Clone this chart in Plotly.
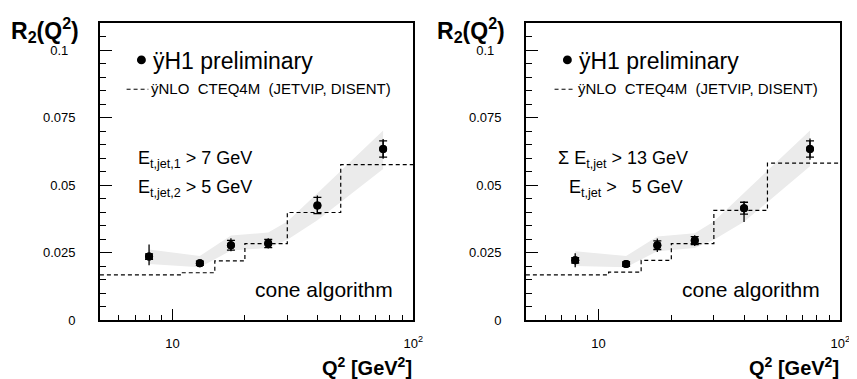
import math
import plotly.graph_objects as go

W, H = 857, 379

# ---------------- data ----------------
q_points = [8.0, 13.0, 17.5, 25.0, 40.0, 75.0]

left_r2 = [0.0236, 0.0211, 0.0278, 0.0284, 0.0425, 0.0634]
left_err_plus = [0.0045, 0.0010, 0.0026, 0.0020, 0.0037, 0.0037]
left_err_minus = [0.0032, 0.0010, 0.0022, 0.0018, 0.0030, 0.0036]
left_err_stat = [0.0010, 0.0008, 0.0018, 0.0015, 0.0030, 0.0030]

right_r2 = [0.0222, 0.0208, 0.0278, 0.0295, 0.0415, 0.0634]
right_err_plus = [0.0026, 0.0012, 0.0025, 0.0020, 0.0026, 0.0039]
right_err_minus = [0.0026, 0.0012, 0.0025, 0.0020, 0.0051, 0.0040]
right_err_stat = [0.0010, 0.0008, 0.0016, 0.0015, 0.0022, 0.0030]

nlo_edges = [5, 11, 15, 20, 30, 50, 100]
left_nlo = [0.0168, 0.0176, 0.0220, 0.0284, 0.0399, 0.0576]
right_nlo = [0.0168, 0.0178, 0.0222, 0.0284, 0.0407, 0.0582]

band_q = [8.0, 13.0, 17.5, 25.0, 30.0, 40.0, 75.0]
left_band_lo = [0.0208, 0.0196, 0.0258, 0.0268, 0.0298, 0.0370, 0.0560]
left_band_hi = [0.0262, 0.0238, 0.0314, 0.0325, 0.0366, 0.0470, 0.0703]
right_band_lo = [0.0201, 0.0196, 0.0256, 0.0268, 0.0298, 0.0365, 0.0570]
right_band_hi = [0.0256, 0.0238, 0.0310, 0.0322, 0.0366, 0.0472, 0.0703]

x_tickvals = [10, 100]
x_ticktext = ["10", "10<sup>2</sup>"]
x_minor = [6, 7, 8, 9, 20, 30, 40, 50, 60, 70, 80, 90]
y_tickvals = [0, 0.025, 0.05, 0.075, 0.1]
y_ticktext = ["0", "0.025", "0.05", "0.075", "0.1\u00a0\u00a0"]
y_minor = [round(0.005 * i, 3) for i in range(1, 22) if i % 5 != 0]

legend_data = "\u00ffH1 preliminary"
legend_nlo = "\u00ffNLO\u00a0\u00a0CTEQ4M\u00a0\u00a0(JETVIP,\u00a0DISENT)"
left_cuts = ["E<sub>t,jet,1</sub> > 7 GeV", "E<sub>t,jet,2</sub> > 5 GeV"]
right_cuts = ["\u03a3 E<sub>t,jet</sub> > 13 GeV", "E<sub>t,jet</sub> >\u00a0\u00a0\u00a05 GeV"]

FONT = "Liberation Sans, Arial, Helvetica, sans-serif"

# ---------------- geometry (pixels) ----------------
panels = [
    dict(x0=93, x1=410, r2=left_r2, ep=left_err_plus, em=left_err_minus, es=left_err_stat,
         nlo=left_nlo, lo=left_band_lo, hi=left_band_hi, cuts=left_cuts,
         cut_x=[130, 130], bullet_x=135, text_x=145, dash_x=(120, 142), nlo_text_x=143),
    dict(x0=524, x1=842, r2=right_r2, ep=right_err_plus, em=right_err_minus, es=right_err_stat,
         nlo=right_nlo, lo=right_band_lo, hi=right_band_hi, cuts=right_cuts,
         cut_x=[554, 566], bullet_x=566, text_x=576, dash_x=(553, 574), nlo_text_x=575),
]
y_top, y_bot = 15, 319


def px(x):
    return x / W


def py(y):
    return 1 - y / H


fig = go.Figure()
layout = dict(
    width=W, height=H, margin=dict(l=0, r=0, t=0, b=0),
    paper_bgcolor="white", plot_bgcolor="white", showlegend=False,
    font=dict(family=FONT, color="black"),
)
annotations = []
shapes = []

for i, p in enumerate(panels):
    sfx = "" if i == 0 else str(i + 1)
    xa, ya = "x" + sfx, "y" + sfx

    # uncertainty band
    fig.add_trace(go.Scatter(
        x=band_q + band_q[::-1], y=p["hi"] + p["lo"][::-1],
        fill="toself", fillcolor="#ebebeb", line=dict(width=0),
        mode="lines", xaxis=xa, yaxis=ya, hoverinfo="skip"))
    # NLO histogram
    fig.add_trace(go.Scatter(
        x=nlo_edges, y=p["nlo"] + [p["nlo"][-1]], mode="lines",
        line=dict(shape="hv", color="black", width=1.2, dash="4px,3px"),
        xaxis=xa, yaxis=ya))
    # total errors
    fig.add_trace(go.Scatter(
        x=q_points, y=p["r2"], mode="markers",
        marker=dict(size=8, color="black"),
        error_y=dict(type="data", symmetric=False, array=p["ep"], arrayminus=p["em"],
                     color="black", thickness=1.3, width=0),
        xaxis=xa, yaxis=ya))
    # stat errors (caps)
    fig.add_trace(go.Scatter(
        x=q_points, y=p["r2"], mode="markers",
        marker=dict(size=8, color="black"),
        error_y=dict(type="data", array=p["es"], color="black", thickness=1.3, width=4),
        xaxis=xa, yaxis=ya))

    axis_common = dict(showline=True, linecolor="black", linewidth=1.5, mirror=True,
                       ticks="inside", tickcolor="black", tickwidth=1.2,
                       showgrid=False, zeroline=False,
                       tickfont=dict(size=13, family=FONT, color="black"))
    layout["xaxis" + sfx] = dict(
        type="log", range=[math.log10(5), 2], domain=[px(p["x0"]), px(p["x1"])],
        anchor=ya, tickmode="array", tickvals=x_tickvals, ticktext=x_ticktext,
        ticklen=12, ticklabelstandoff=10,
        minor=dict(tickmode="array", tickvals=x_minor, ticks="inside", ticklen=6,
                   tickcolor="black", tickwidth=1.2, showgrid=False),
        **axis_common)
    layout["yaxis" + sfx] = dict(
        range=[0, 0.1102], domain=[py(y_bot), py(y_top)], anchor=xa,
        tickmode="array", tickvals=y_tickvals, ticktext=y_ticktext,
        ticklen=12, ticklabelstandoff=20,
        minor=dict(tickmode="array", tickvals=y_minor, ticks="inside", ticklen=6,
                   tickcolor="black", tickwidth=1.2, showgrid=False),
        **axis_common)

    # axis titles
    annotations.append(dict(
        x=px(p["x0"] - 92), y=py(22), xref="paper", yref="paper",
        xanchor="left", yanchor="middle", showarrow=False,
        text="<b>R<sub>2</sub>(Q<sup>2</sup>)</b>", font=dict(size=23, family=FONT)))
    annotations.append(dict(
        x=px(p["x1"] + 1), y=py(366), xref="paper", yref="paper",
        xanchor="right", yanchor="middle", showarrow=False,
        text="<b>Q<sup>2</sup> [GeV<sup>2</sup>]</b>", font=dict(size=20, family=FONT)))

    # legend
    r = 4.5
    shapes.append(dict(type="circle", xref="paper", yref="paper",
                       x0=px(p["bullet_x"] - r), x1=px(p["bullet_x"] + r),
                       y0=py(53 + r), y1=py(53 - r),
                       fillcolor="black", line=dict(width=0)))
    annotations.append(dict(
        x=px(p["text_x"]), y=py(54), xref="paper", yref="paper",
        xanchor="left", yanchor="middle", showarrow=False,
        text=legend_data, font=dict(size=23, family=FONT)))
    shapes.append(dict(type="line", xref="paper", yref="paper",
                       x0=px(p["dash_x"][0]), x1=px(p["dash_x"][1]), y0=py(83), y1=py(83),
                       line=dict(color="black", width=1, dash="4px,3px")))
    annotations.append(dict(
        x=px(p["nlo_text_x"]), y=py(82), xref="paper", yref="paper",
        xanchor="left", yanchor="middle", showarrow=False,
        text=legend_nlo, font=dict(size=15, family=FONT)))

    # cut annotations
    for j, (txt, cy) in enumerate(zip(p["cuts"], [155, 184])):
        annotations.append(dict(
            x=px(p["cut_x"][j]), y=py(cy), xref="paper", yref="paper",
            xanchor="left", yanchor="middle", showarrow=False,
            text=txt, font=dict(size=18, family=FONT)))

    annotations.append(dict(
        x=px(p["x1"] - 18), y=py(288), xref="paper", yref="paper",
        xanchor="right", yanchor="middle", showarrow=False,
        text="cone algorithm", font=dict(size=21, family=FONT)))

layout["annotations"] = annotations
layout["shapes"] = shapes
fig.update_layout(**layout)
fig.write_html("out.html")
